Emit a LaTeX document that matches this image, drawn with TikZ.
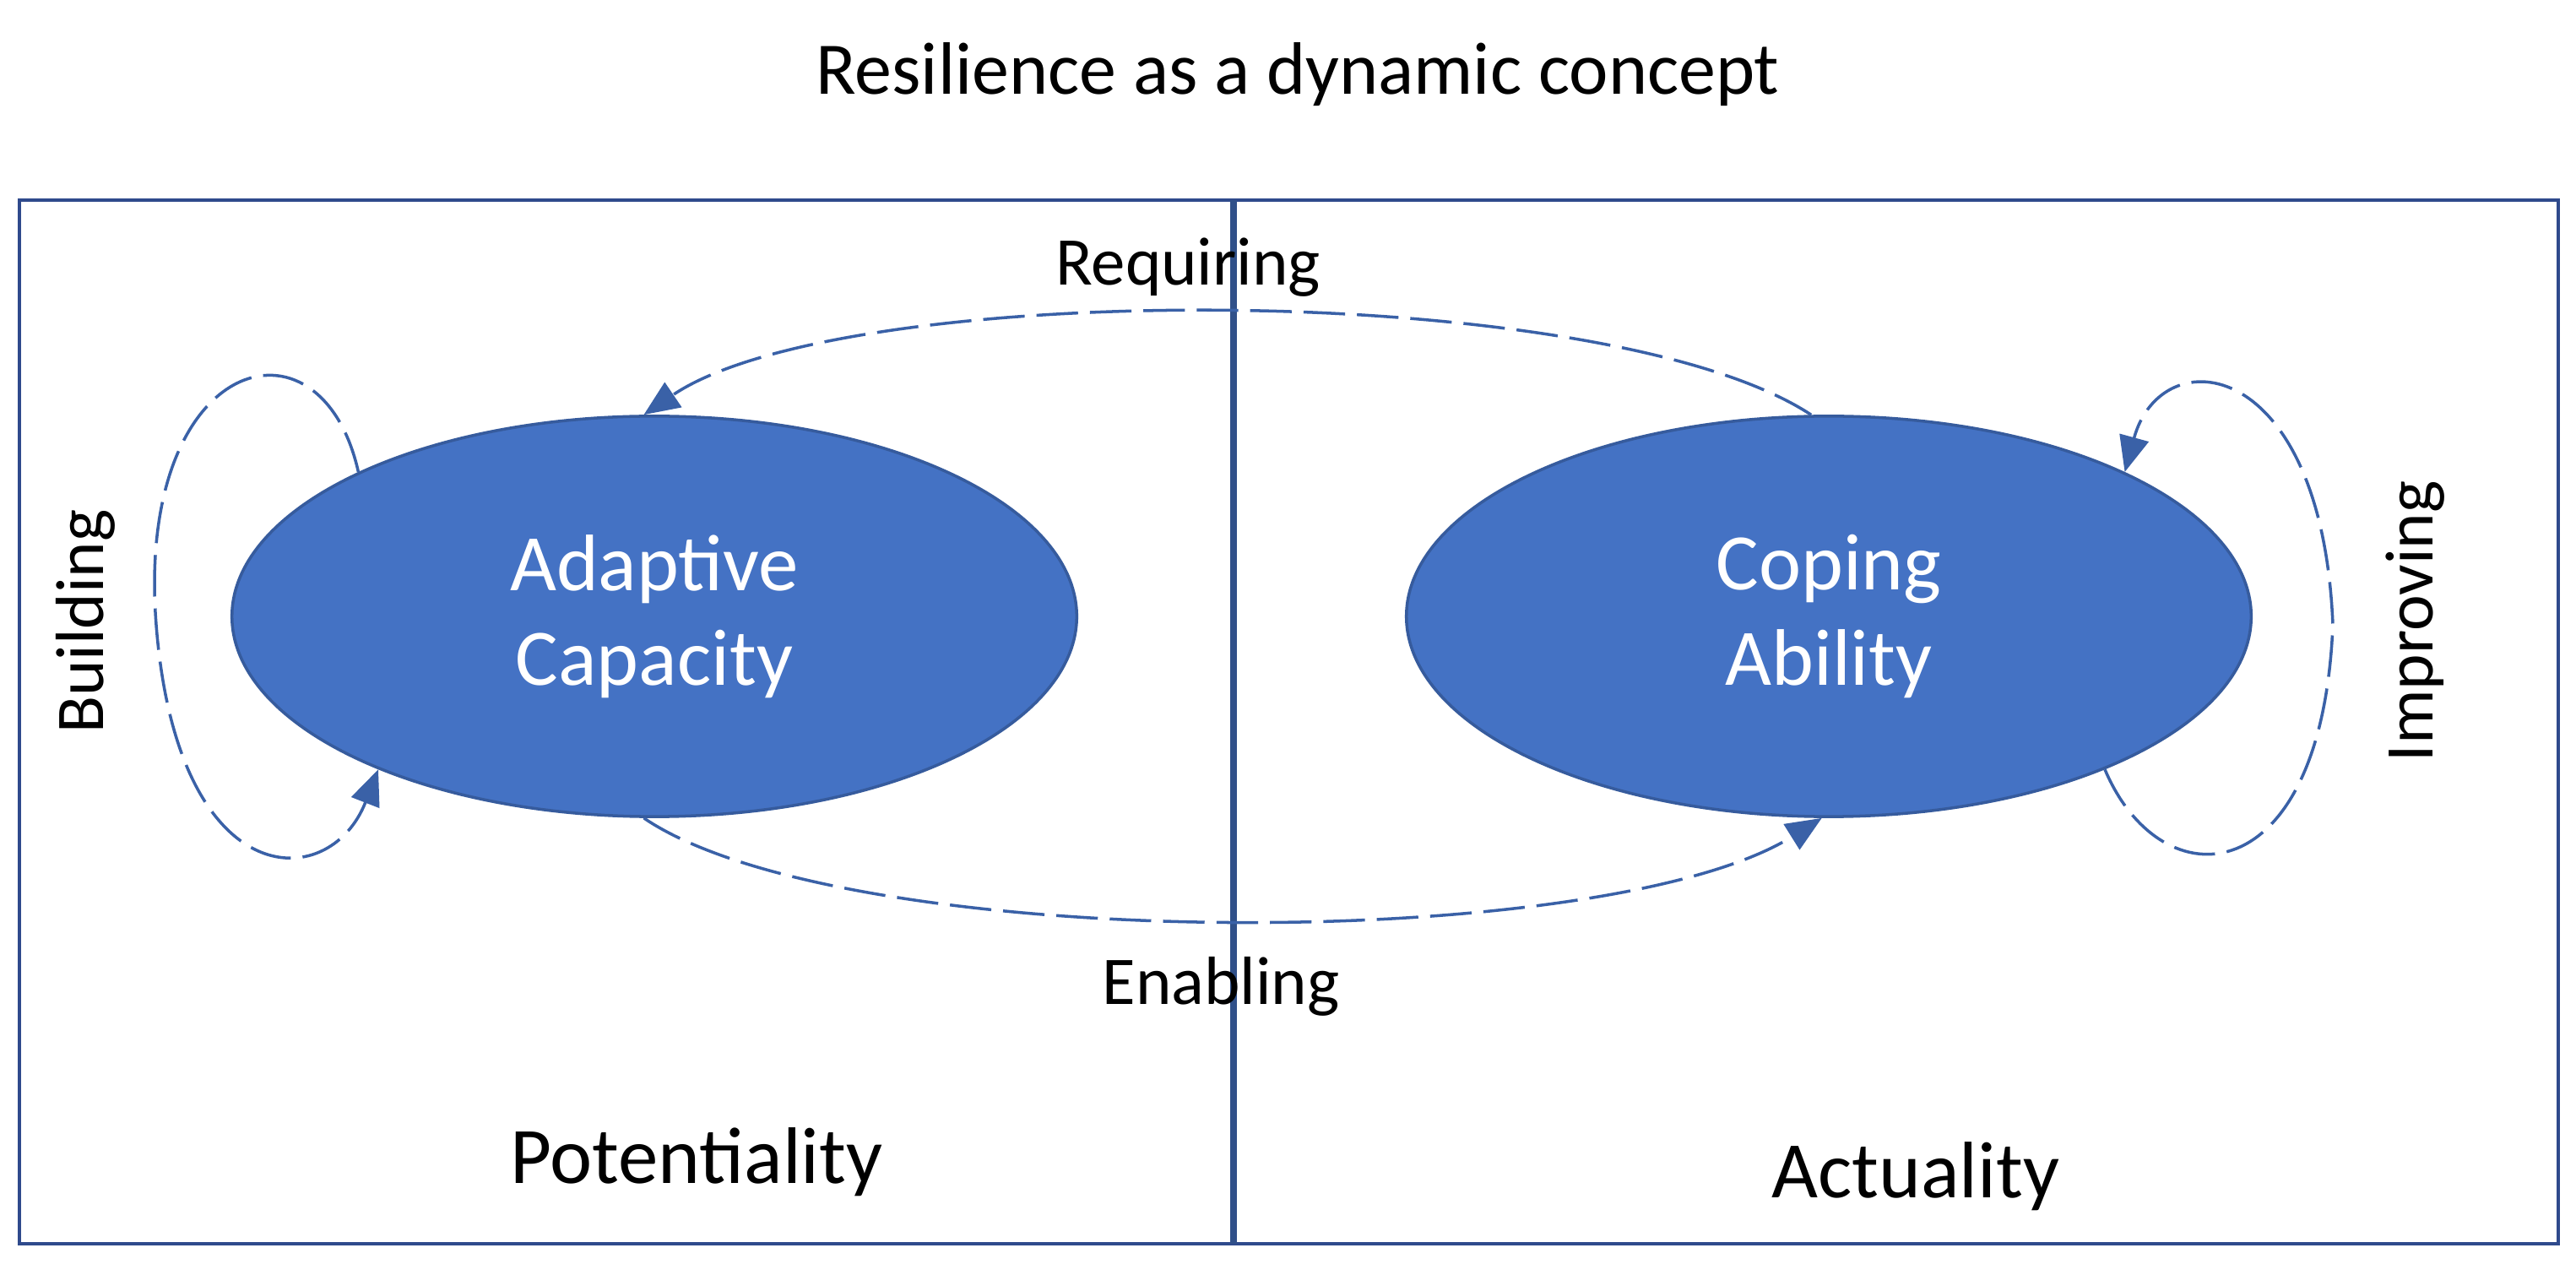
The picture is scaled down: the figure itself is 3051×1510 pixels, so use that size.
\documentclass[tikz,border=0pt]{standalone}
\usepackage{fontspec}
\setmainfont{Carlito}
\usetikzlibrary{shapes.geometric,arrows.meta}
\definecolor{ublue}{HTML}{4472C4}
\definecolor{bline}{HTML}{2F4A8C}
\begin{document}
\begin{tikzpicture}[x=0.01cm,y=-0.01cm,
  blob/.style={ellipse,fill=ublue,draw=ublue!80!black,line width=1pt,minimum width=10cm,minimum height=4.74cm,inner sep=0pt,text=white,font=\fontsize{27}{32}\selectfont,align=center},
  lab/.style={font=\fontsize{23}{28}\selectfont},
  con/.style={draw=ublue!85!black,line width=1pt,dash pattern=on 14pt off 4pt,-{Triangle[length=12pt,width=10pt,sep=0pt]},shorten >=0pt}]
\useasboundingbox (0,0) rectangle (3051,1510);
\fill[white] (0,0) rectangle (3051,1510);
\node[font=\fontsize{25}{30}\selectfont] (title) at (1537,88) {Resilience as a dynamic concept};
\draw[bline,line width=1.2pt] (23,237) rectangle (3030,1473);
\coordinate (dt) at (1461,237);
\coordinate (db) at (1461,1473);
\draw[ublue!70!black,line width=2.5pt] (dt) -- (db);
\node[blob] (ac) at (775,730) {Adaptive\\Capacity};
\node[blob] (cb) at (2166,730) {Coping\\Ability};
\node[lab] (req) at (1407,317) {Requiring};
\node[lab] (ena) at (1446,1168) {Enabling};
\node[lab,rotate=90] (bld) at (101,736) {Building};
\node[lab,rotate=90] (imp) at (2861,736) {Improving};
\node[font=\fontsize{27}{32}\selectfont] (pot) at (825,1376) {Potentiality};
\node[font=\fontsize{27}{32}\selectfont] (act) at (2269,1393) {Actuality};
\coordinate (bl) at (185,740);
\coordinate (ir) at (2763,740);
\draw[con] (cb.95) .. controls (1900,330) and (1000,330) .. (ac.93);
\draw[con] (ac.-93) .. controls (1000,1130) and (1900,1130) .. (cb.-92);
\draw[con] (ac.154) .. controls (380,360) and (160,420) .. (bl) .. controls (210,1060) and (390,1060) .. (ac.209);
\draw[con] (cb.-29) .. controls (2560,1070) and (2750,1060) .. (ir) .. controls (2750,420) and (2560,400) .. (cb.26);
\end{tikzpicture}
\end{document}
